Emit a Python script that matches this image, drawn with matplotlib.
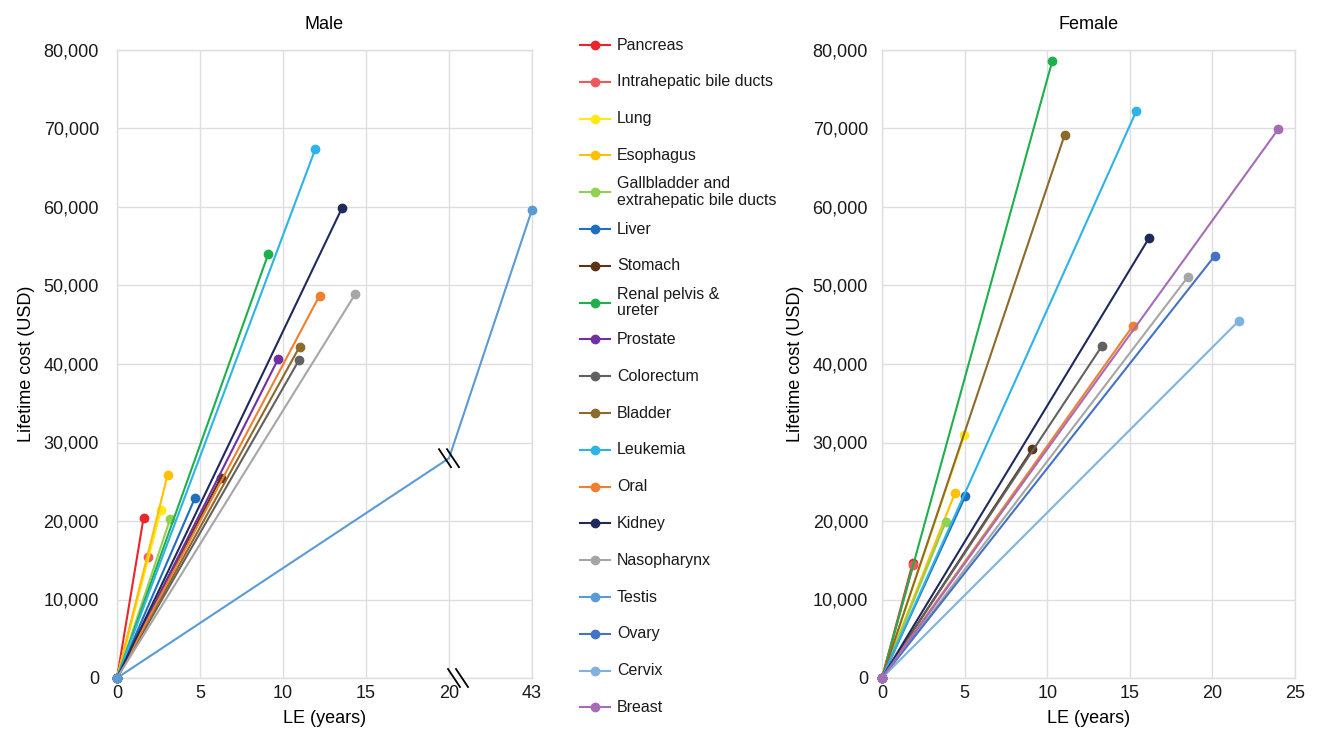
import numpy as np
import matplotlib
matplotlib.use('Agg')
import matplotlib.pyplot as plt
from matplotlib.lines import Line2D
from matplotlib.ticker import FuncFormatter
import matplotlib.transforms as mtransforms

plt.rcParams['font.family'] = ['Liberation Sans', 'DejaVu Sans']

# 数据
cancers = ['Pancreas', 'Intrahepatic bile ducts', 'Lung', 'Esophagus',
           'Gallbladder and\nextrahepatic bile ducts', 'Liver', 'Stomach',
           'Renal pelvis &\nureter', 'Prostate', 'Colorectum', 'Bladder',
           'Leukemia', 'Oral', 'Kidney', 'Nasopharynx', 'Testis', 'Ovary',
           'Cervix', 'Breast']
colors = ['#E8262C', '#F0585A', '#FFE81A', '#FFC000', '#92D050', '#1F6FBF',
          '#5C3317', '#1DB04C', '#7030A0', '#616161', '#8C6A2A', '#2DB3E8',
          '#F07F30', '#1F2A5C', '#A6A6A6', '#5B9BD5', '#4472C4', '#7FB2E0',
          '#A56DB5']

male_le = [1.6, 1.85, 2.65, 3.05, 3.2, 4.7, 6.25, 9.1, 9.7, 10.95, 11.0,
           11.95, 12.2, 13.55, 14.35, 43, None, None, None]
male_cost = [20400, 15400, 21400, 25900, 20250, 22950, 25500, 53950, 40600,
             40450, 42200, 67400, 48700, 59850, 48900, 59650, None, None, None]
# 睾丸曲线在断轴处的拐点
testis_break_le = 20
testis_break_cost = 28000

female_le = [1.85, 1.9, 4.98, 4.42, 3.85, 5.05, 9.1, 10.3, None, 13.3, 11.05,
             15.4, 15.2, 16.15, 18.5, None, 20.15, 21.6, 24.0]
female_cost = [14600, 14450, 30900, 23600, 19850, 23200, 29150, 78550, None,
               42250, 69150, 72250, 44900, 56000, 51050, None, 53800, 45500,
               69950]

W, H = 1319, 729
fig = plt.figure(figsize=(W / 100, H / 100), dpi=100)


def px_axes(x0, x1, y0, y1):
    return fig.add_axes([x0 / W, 1 - y1 / H, (x1 - x0) / W, (y1 - y0) / H])


ax_m = px_axes(117, 532, 50, 678)
ax_f = px_axes(882, 1295, 50, 678)


# 断轴: 0-20 线性, 20-43 压缩到 20-25
def fwd(x):
    x = np.asarray(x, dtype=float)
    return np.where(x <= 20, x, 20 + (x - 20) * 5 / 23)


def inv(u):
    u = np.asarray(u, dtype=float)
    return np.where(u <= 20, u, 20 + (u - 20) * 23 / 5)


ax_m.set_xscale('function', functions=(fwd, inv))

grid_c = '#DEDEDE'
for ax in (ax_m, ax_f):
    ax.set_ylim(0, 80000)
    ax.set_yticks(np.arange(0, 80001, 10000))
    ax.yaxis.set_major_formatter(FuncFormatter(lambda v, p: f'{v:,.0f}'))
    ax.grid(True, color=grid_c, linewidth=1)
    ax.set_axisbelow(True)
    for s in ax.spines.values():
        s.set_color(grid_c)
        s.set_linewidth(1)
    ax.tick_params(length=0, labelsize=13, colors='#1a1a1a')
    ax.set_xlabel('LE (years)', fontsize=13, labelpad=6)

ax_m.tick_params(axis='y', pad=13)
ax_f.tick_params(axis='y', pad=10)
ax_m.tick_params(axis='x', pad=5)
ax_f.tick_params(axis='x', pad=5)

ax_m.set_xlim(0, 43)
ax_m.set_xticks([0, 5, 10, 15, 20, 43])
ax_m.set_xticklabels(['0', '5', '10', '15', '20', '43'])
ax_f.set_xlim(0, 25)
ax_f.set_xticks([0, 5, 10, 15, 20, 25])

ax_m.set_title('Male', fontsize=13, pad=15)
ax_f.set_title('Female', fontsize=13, pad=15)
ax_m.set_ylabel('Lifetime cost (USD)', fontsize=13, labelpad=6)
ax_f.set_ylabel('Lifetime cost (USD)', fontsize=13, labelpad=6)

lw, ms = 1.5, 6
for i, name in enumerate(cancers):
    if male_le[i] is not None:
        if name == 'Testis':
            xs = [0, testis_break_le, male_le[i]]
            ys = [0, testis_break_cost, male_cost[i]]
            ax_m.plot(xs, ys, color=colors[i], lw=lw, marker='o', ms=ms,
                      markevery=[0, 2], clip_on=False, zorder=3)
        else:
            ax_m.plot([0, male_le[i]], [0, male_cost[i]], color=colors[i],
                      lw=lw, marker='o', ms=ms, clip_on=False, zorder=3)
    if female_le[i] is not None:
        ax_f.plot([0, female_le[i]], [0, female_cost[i]], color=colors[i],
                  lw=lw, marker='o', ms=ms, clip_on=False, zorder=3)


# 断轴标记
def break_marks(ax, x, y, transform):
    for dx in (-4, 4):
        tr = transform + mtransforms.ScaledTranslation(dx / 100, 0,
                                                       fig.dpi_scale_trans)
        base = tr.transform((x, y))
        pts = np.array([[base[0] - 6, base[1] + 9], [base[0] + 6, base[1] - 9]])
        ax.add_line(Line2D(pts[:, 0], pts[:, 1], color='black', lw=1.3,
                           transform=None, clip_on=False, zorder=5))


fig.canvas.draw()
break_marks(ax_m, (458 - 117) / 415, 0, ax_m.transAxes)
break_marks(ax_m, testis_break_le, testis_break_cost, ax_m.transData)

# 图例 (手动排列)
for i, name in enumerate(cancers):
    y = 1 - (45 + i * 36.8) / H
    fig.add_artist(Line2D([580 / W, 610 / W], [y, y], color=colors[i], lw=lw,
                          transform=fig.transFigure))
    fig.add_artist(Line2D([595 / W], [y], color=colors[i], marker='o', ms=ms,
                          transform=fig.transFigure))
    fig.text(617 / W, y, name, fontsize=11.5, va='center', ha='left',
             color='#1a1a1a', linespacing=1.15)

fig.savefig('out.png', dpi=100)
